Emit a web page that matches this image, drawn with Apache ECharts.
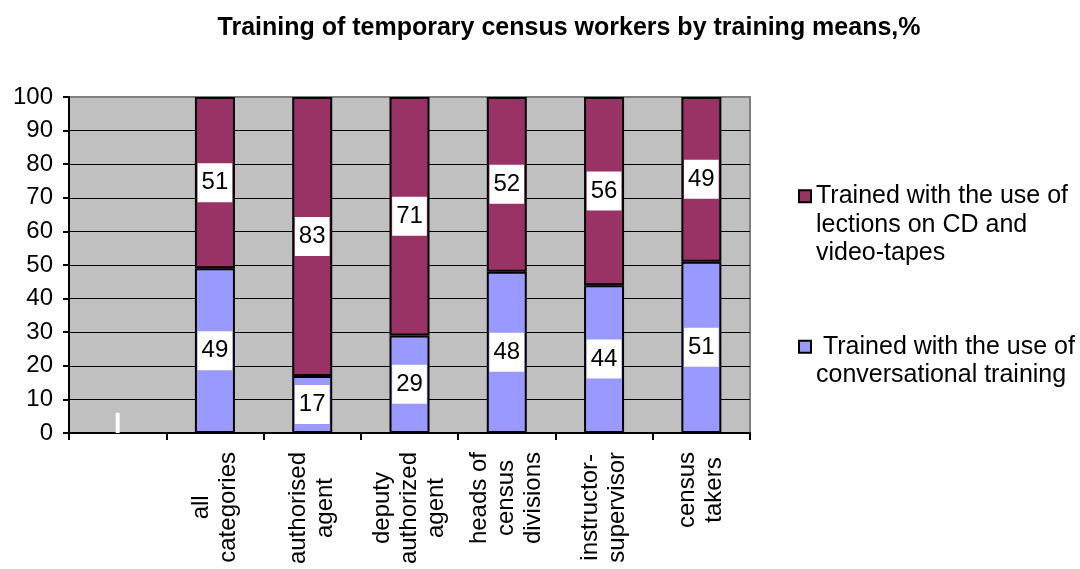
<!DOCTYPE html>
<html>
<head>
<meta charset="utf-8">
<script src="https://cdn.jsdelivr.net/npm/echarts@6/dist/echarts.min.js"></script>
<style>html,body{margin:0;padding:0;background:#fff}#c{width:1080px;height:569px}</style>
</head>
<body>
<div id="c"></div>
<script>
const titleText = 'Training of temporary census workers by training means,%';
const categories = ['', 'all\ncategories', 'authorised\nagent', 'deputy\nauthorized\nagent', 'heads of\ncensus\ndivisions', 'instructor-\nsupervisor', 'census\ntakers'];
const conversational = ['-', 49, 17, 29, 48, 44, 51];
const lections = ['-', 51, 83, 71, 52, 56, 49];
const stray = [6, '-', '-', '-', '-', '-', '-'];
const nameLections = 'Trained with the use of\nlections on CD and\nvideo-tapes';
const nameConv = ' Trained with the use of\nconversational training';

const FONT = '"Liberation Sans", Arial, sans-serif';
const chart = echarts.init(document.getElementById('c'), null, {renderer: 'canvas'});

const barLabel = {
  show: true, position: 'inside', color: '#000', fontFamily: FONT, fontSize: 24,
  backgroundColor: '#fff', padding: [8, 4, 7, 4], formatter: p => p.value
};

chart.setOption({
  animation: false,
  backgroundColor: '#fff',
  title: {
    text: titleText, left: 564, top: 11, textAlign: 'center',
    textStyle: {fontFamily: FONT, fontSize: 25, fontWeight: 'bold', color: '#000'}
  },
  legend: [
    {
      data: [nameLections], orient: 'vertical', left: 793, top: 120, icon: 'rect',
      itemWidth: 12, itemHeight: 12, itemGap: 0, selectedMode: false,
      formatter: n => '\n\n' + n,
      textStyle: {fontFamily: FONT, fontSize: 25, lineHeight: 28.5, color: '#000'}
    },
    {
      data: [nameConv], orient: 'vertical', left: 793, top: 299, icon: 'rect',
      itemWidth: 12, itemHeight: 12, itemGap: 0, selectedMode: false,
      formatter: n => '\n' + n,
      textStyle: {fontFamily: FONT, fontSize: 25, lineHeight: 28.5, color: '#000'}
    }
  ],
  grid: {
    left: 69, right: 330, top: 97, bottom: 136,
    show: true, backgroundColor: '#C0C0C0', borderColor: '#808080', borderWidth: 2
  },
  xAxis: [
    {
      type: 'category', data: categories,
      axisLine: {lineStyle: {color: '#000', width: 2}},
      axisTick: {show: true, length: 7, interval: 0, lineStyle: {color: '#000', width: 2}},
      axisLabel: {
        interval: 0, rotate: 90, margin: 19, color: '#000',
        formatter: v => v.split('\n').map(l => '{c|' + l + '}').join('\n'),
        rich: {c: {align: 'center', fontFamily: FONT, fontSize: 24, lineHeight: 27, color: '#000'}}
      },
      splitLine: {show: false}
    },
    {
      type: 'category', data: categories, show: false
    }
  ],
  yAxis: {
    type: 'value', min: 0, max: 100, interval: 10,
    axisLine: {show: true, lineStyle: {color: '#000', width: 2}},
    axisTick: {show: true, length: 6, lineStyle: {color: '#000', width: 2}},
    axisLabel: {margin: 16, color: '#000', fontFamily: FONT, fontSize: 24},
    splitLine: {show: true, showMaxLine: false, lineStyle: {color: '#000', width: 1}}
  },
  series: [
    {
      name: nameConv, type: 'bar', stack: 's', data: conversational, barWidth: 40,
      itemStyle: {color: '#9999FF', borderColor: '#000', borderWidth: 2},
      label: barLabel
    },
    {
      name: nameLections, type: 'bar', stack: 's', data: lections, barWidth: 40,
      itemStyle: {color: '#993366', borderColor: '#000', borderWidth: 2},
      label: barLabel
    },
    {
      name: 'stray', type: 'bar', xAxisIndex: 1, data: stray, barWidth: 4, silent: true,
      itemStyle: {color: '#fff'}, label: {show: false}
    }
  ]
});
</script>
</body>
</html>
